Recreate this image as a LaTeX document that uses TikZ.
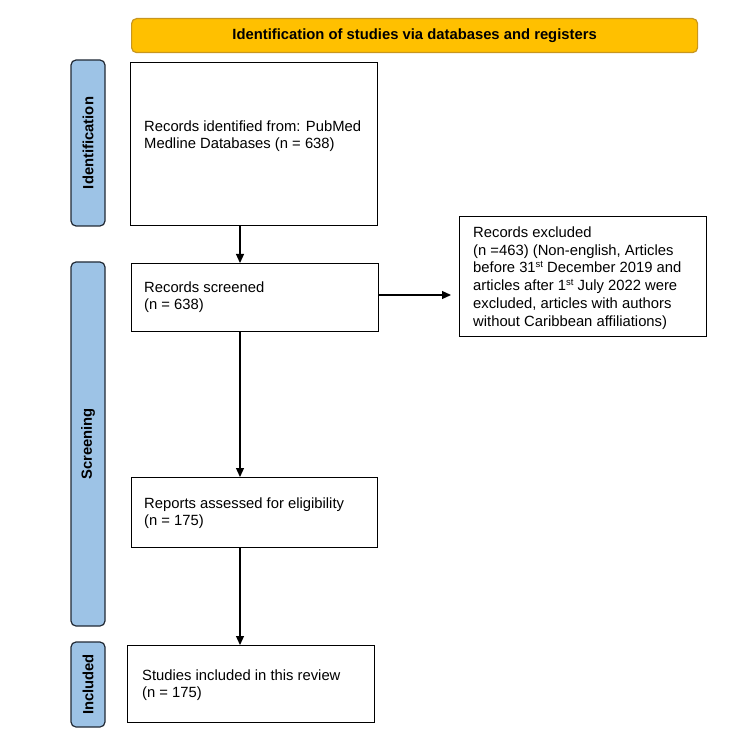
\documentclass[tikz,border=0pt]{standalone}
\usepackage{fontspec}
\setmainfont{Liberation Sans}
\usetikzlibrary{arrows.meta,calc}
\definecolor{bannerfill}{HTML}{FFC000}
\definecolor{bannerline}{HTML}{C8961E}
\definecolor{sidefill}{HTML}{9DC3E6}
\definecolor{sideline}{HTML}{222A35}
\newcommand{\supr}[1]{\raisebox{0.38em}{\fontsize{9.5}{9.5}\selectfont #1}}
\begin{document}
\begin{tikzpicture}[x=1pt,y=-1pt,
  box/.style={draw=black,line width=1.2pt,fill=white,rectangle,inner sep=0pt,anchor=north west},
  txt/.style={anchor=west,align=left,inner sep=0pt,font=\fontsize{14.8}{17.3}\selectfont},
  side/.style={draw=sideline,line width=1.2pt,fill=sidefill,rounded corners=5pt,rotate=90,inner sep=0pt,
    font=\fontsize{14.8}{17}\selectfont\bfseries},
  arr/.style={line width=1.2pt,-{Triangle[length=9pt,width=8pt]}}]
\useasboundingbox (0,0) rectangle (750,746);

% banner
\node[draw=bannerline,line width=1.2pt,fill=bannerfill,rounded corners=5pt,anchor=north west,
  minimum width=566pt,minimum height=34pt,inner sep=0pt,
  font=\fontsize{14.8}{17}\selectfont\bfseries] (banner) at (131,18)
  {Identification of studies via databases and registers};

% side labels
\node[side,minimum width=166pt,minimum height=34pt] (sid) at (88,143) {Identification};
\node[side,minimum width=364pt,minimum height=34pt] (sscr) at (88,444) {Screening};
\node[side,minimum width=85pt,minimum height=34pt] (sinc) at (88,684.5) {Included};

% boxes
\node[box,minimum width=247pt,minimum height=163pt] (b1) at (130,62) {};
\node[box,minimum width=247pt,minimum height=68pt] (b2) at (131,263) {};
\node[box,minimum width=247pt,minimum height=120pt] (bx) at (459,216) {};
\node[box,minimum width=246pt,minimum height=70pt] (b3) at (131,477) {};
\node[box,minimum width=247pt,minimum height=77pt] (b4) at (127,645) {};

% texts
\node[txt] (t1) at (144,136.5) {Records identified from: PubMed\\Medline Databases (n = 638)};
\node[txt] (t2) at (144,297.5) {Records screened\\(n = 638)};
\node[txt,font=\fontsize{14.8}{17.8}\selectfont] (tx) at (473,278) {Records excluded\\(n =463) (Non-english, Articles\\before 31\supr{st} December 2019 and\\articles after 1\supr{st} July 2022 were\\excluded, articles with authors\\without Caribbean affiliations)};
\node[txt] (t3) at (144,513) {Reports assessed for eligibility\\(n = 175)};
\node[txt] (t4) at (142,685.5) {Studies included in this review\\(n = 175)};

% arrows
\coordinate (ax) at (240,0);
\coordinate (ay) at (0,295);
\draw[arr] (b1.south -| ax) -- (b2.north -| ax);
\draw[arr] (b2.east |- ay) -- ([xshift=-8pt]bx.west |- ay);
\draw[arr] (b2.south -| ax) -- (b3.north -| ax);
\draw[arr] (b3.south -| ax) -- (b4.north -| ax);
\end{tikzpicture}
\end{document}
